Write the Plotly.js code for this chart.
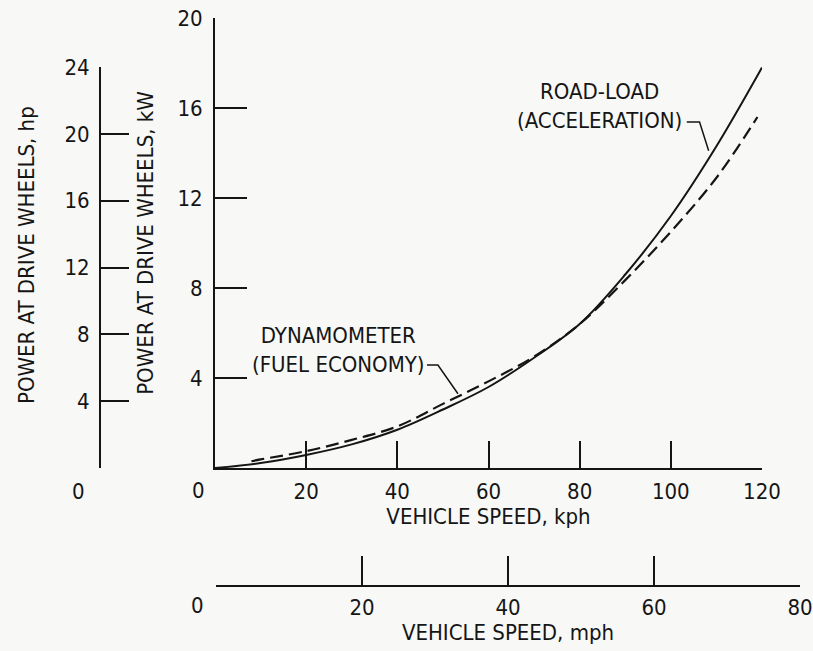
<!DOCTYPE html>
<html>
<head>
<meta charset="utf-8">
<script src="https://cdn.plot.ly/plotly-3.0.1.min.js"></script>
<style>
  html, body { margin: 0; padding: 0; background: #f8f8f6; }
  #chart { width: 813px; height: 651px; }
</style>
</head>
<body>
<div id="chart"></div>
<script>
// ---- data ----
const roadLoadKph = [0, 10, 20, 30, 40, 50, 60, 70, 80, 90, 100, 110, 120];
const roadLoadKW  = [0, 0.22, 0.58, 1.05, 1.7, 2.6, 3.6, 4.9, 6.4, 8.6, 11.2, 14.3, 17.8];

const dynoKph = [8, 10, 20, 30, 40, 50, 60, 70, 80, 90, 100, 110, 119];
const dynoKW  = [0.3, 0.38, 0.75, 1.25, 1.85, 2.85, 3.85, 4.95, 6.4, 8.35, 10.5, 12.9, 15.6];

const kphTicks = [0, 20, 40, 60, 80, 100, 120];
const kwTicks  = [0, 4, 8, 12, 16, 20];
const hpTicks  = [0, 4, 8, 12, 16, 20, 24];
const mphTicks = [0, 20, 40, 60, 80];

const roadLoadLabel = 'ROAD-LOAD<br>(ACCELERATION)';
const dynoLabel = 'DYNAMOMETER<br>(FUEL ECONOMY)';

// ---- layout helpers ----
const W = 813, H = 651;
const px = v => v / W;
const py = v => 1 - v / H;
const FONT = "'Liberation Sans Narrow', 'DejaVu Sans Condensed', 'Arial Narrow', sans-serif";
const INK = '#151515';
const tf = { family: FONT, size: 22, color: INK };
const blank0 = arr => arr.map(v => v === 0 ? '' : String(v));

const traces = [
  {
    x: roadLoadKph, y: roadLoadKW, xaxis: 'x', yaxis: 'y',
    mode: 'lines', line: { color: INK, width: 2, shape: 'spline' },
    hoverinfo: 'skip', showlegend: false, name: 'Road-load'
  },
  {
    x: dynoKph, y: dynoKW, xaxis: 'x', yaxis: 'y',
    mode: 'lines', line: { color: INK, width: 2.2, shape: 'spline', dash: '13px,6px' },
    hoverinfo: 'skip', showlegend: false, name: 'Dynamometer'
  },
  {
    // carrier trace so that the mph / hp axes are drawn
    x: [mphTicks[0], mphTicks[mphTicks.length - 1]],
    y: [hpTicks[0], hpTicks[hpTicks.length - 1]],
    xaxis: 'x2', yaxis: 'y2', mode: 'lines', opacity: 0,
    hoverinfo: 'skip', showlegend: false
  }
];

const axisCommon = {
  showline: true, linewidth: 2, linecolor: INK,
  ticks: 'inside', tickwidth: 2, tickcolor: INK,
  showgrid: false, zeroline: false, tickfont: tf, fixedrange: true
};

const layout = {
  width: W, height: H,
  margin: { l: 0, r: 0, t: 0, b: 0 },
  paper_bgcolor: '#f8f8f6',
  plot_bgcolor: 'rgba(0,0,0,0)',
  showlegend: false,
  font: tf,
  xaxis: Object.assign({}, axisCommon, {
    domain: [px(215), px(762)], range: [0, 120], anchor: 'y',
    ticklen: 27, tickvals: kphTicks, ticktext: blank0(kphTicks),
    ticklabelstandoff: 3,
    title: { text: 'VEHICLE SPEED, kph', font: tf, standoff: 4 }
  }),
  yaxis: Object.assign({}, axisCommon, {
    domain: [py(468), py(18)], range: [0, 20], anchor: 'x',
    ticklen: 32, tickvals: kwTicks, ticktext: blank0(kwTicks),
    ticklabelstandoff: 6,
    title: { text: 'POWER AT DRIVE WHEELS, kW', font: tf, standoff: 18 }
  }),
  xaxis2: Object.assign({}, axisCommon, {
    domain: [px(216), px(800)], range: [0, 80], anchor: 'free',
    position: py(586), side: 'bottom',
    ticklen: 29, tickvals: mphTicks, ticktext: blank0(mphTicks),
    ticklabelstandoff: 2,
    title: { text: 'VEHICLE SPEED, mph', font: tf, standoff: 2 }
  }),
  yaxis2: Object.assign({}, axisCommon, {
    domain: [py(468), py(67)], range: [0, 24], anchor: 'free',
    position: px(100), side: 'left',
    ticklen: 28, tickvals: hpTicks, ticktext: blank0(hpTicks),
    ticklabelstandoff: 5
  }),
  annotations: [
    { xref: 'x', yref: 'y', x: 0, y: 0, text: '0', showarrow: false,
      font: tf, xanchor: 'center', yanchor: 'middle', xshift: -17, yshift: -22 },
    { xref: 'paper', yref: 'y2', x: px(100), y: 0, text: '0', showarrow: false,
      font: tf, xanchor: 'right', yanchor: 'middle', xshift: -13, yshift: -23 },
    { xref: 'x2', yref: 'paper', x: 0, y: py(586), text: '0', showarrow: false,
      font: tf, xanchor: 'center', yanchor: 'middle', xshift: -19, yshift: -19 },
    { xref: 'paper', yref: 'paper', x: px(27), y: py(255), text: 'POWER AT DRIVE WHEELS, hp',
      textangle: -90, showarrow: false, font: tf, xanchor: 'center', yanchor: 'middle' },
    { xref: 'x', yref: 'y', x: 84.4, y: 16.1, text: roadLoadLabel, showarrow: false,
      font: tf, align: 'center', xanchor: 'center', yanchor: 'middle' },
    { xref: 'x', yref: 'y', x: 27, y: 5.25, text: dynoLabel, showarrow: false,
      font: tf, align: 'center', xanchor: 'center', yanchor: 'middle' }
  ],
  shapes: [
    { type: 'path', xref: 'x', yref: 'y', path: 'M103.5,15.38 L106.3,15.38 L108.3,14.1',
      line: { color: INK, width: 1.5 } },
    { type: 'path', xref: 'x', yref: 'y', path: 'M46.5,4.58 L48.9,4.58 L53.3,3.3',
      line: { color: INK, width: 1.5 } }
  ]
};

Plotly.newPlot('chart', traces, layout, { displayModeBar: false, staticPlot: true });
</script>
</body>
</html>
